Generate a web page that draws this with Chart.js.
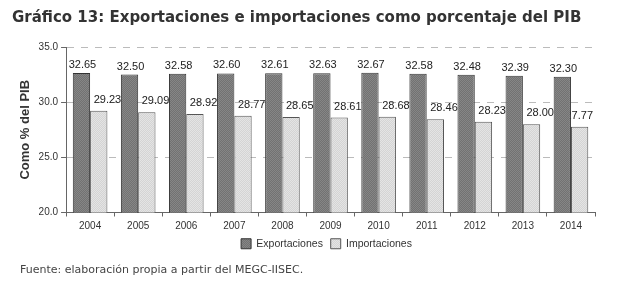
<!DOCTYPE html>
<html><head><meta charset="utf-8">
<script src="https://cdn.jsdelivr.net/npm/chart.js@4.4.0/dist/chart.umd.min.js"></script>
<style>html,body{margin:0;padding:0;background:#fff;}#wrap{width:623px;height:285px;}</style>
</head><body><div id="wrap"><canvas id="c" width="623" height="285"></canvas></div>
<script>
const categories = ['2004','2005','2006','2007','2008','2009','2010','2011','2012','2013','2014'];
const exportaciones = [32.65,32.50,32.58,32.60,32.61,32.63,32.67,32.58,32.48,32.39,32.30];
const importaciones = [29.23,29.09,28.92,28.77,28.65,28.61,28.68,28.46,28.23,28.00,27.77];
const yTicks = [20,25,30,35];
const titleText = 'Gráfico 13: Exportaciones e importaciones como porcentaje del PIB';
const yTitle = 'Como % del PIB';
const sourceText = 'Fuente: elaboración propia a partir del MEGC-IISEC.';

const ctx0 = document.getElementById('c').getContext('2d');
function makePattern(a, b){
  const p = document.createElement('canvas'); p.width = 2; p.height = 2;
  const g = p.getContext('2d');
  g.fillStyle = a; g.fillRect(0,0,2,2);
  g.fillStyle = b; g.fillRect(0,0,1,1); g.fillRect(1,1,1,1);
  return ctx0.createPattern(p,'repeat');
}
const darkFill = makePattern('#727272','#868686');
const lightFill = makePattern('#d4d4d4','#e4e4e4');

const labelPlugin = {
  id:'labels',
  afterLayout(chart){
    if (chart.legend) { chart.legend.left += 23; chart.legend.right += 23; }
  },
  beforeDatasetsDraw(chart){
    const ctx = chart.ctx; const area = chart.chartArea;
    ctx.save();
    ctx.font = '11px "Liberation Sans", Arial, sans-serif';
    ctx.fillStyle = '#222';
    ctx.textBaseline = 'alphabetic';
    chart.data.datasets.forEach((ds, di) => {
      const meta = chart.getDatasetMeta(di);
      meta.data.forEach((bar, i) => {
        const t = ds.data[i].toFixed(2);
        const w = ctx.measureText(t).width;
        let cx = di === 0 ? bar.x + 1 : bar.x + bar.width/2;
        let left = cx - w/2;
        if (left + w > area.right - 2) left = area.right - 2 - w;
        ctx.fillText(t, left, bar.y - (di === 0 ? 5 : 8));
      });
    });
    ctx.restore();
  }
};
const footPlugin = {
  id:'foot',
  afterDraw(chart){
    const ctx = chart.ctx; ctx.save();
    ctx.font = '11px "DejaVu Sans", sans-serif';
    ctx.fillStyle = '#444'; ctx.textBaseline = 'middle';
    ctx.fillText(sourceText, 20, 270);
    ctx.restore();
  }
};

new Chart(document.getElementById('c'), {
  type:'bar',
  data:{
    labels: categories,
    datasets:[
      {label:'Exportaciones', data: exportaciones, backgroundColor: darkFill, borderColor:'#333', borderWidth:1, categoryPercentage:0.72, barPercentage:1},
      {label:'Importaciones', data: importaciones, backgroundColor: lightFill, borderColor:'#555', borderWidth:1, categoryPercentage:0.72, barPercentage:1}
    ]
  },
  options:{
    responsive:false, animation:false,
    layout:{padding:{left:12, right:28, top:0, bottom:26}},
    plugins:{
      title:{display:true, text:titleText, align:'start', color:'#333',
        font:{family:'"DejaVu Sans", sans-serif', size:15, weight:'bold'}, padding:{top:9, bottom:20}},
      legend:{position:'bottom', labels:{boxWidth:10, boxHeight:10, padding:2, color:'#333',
        font:{family:'"Liberation Sans", Arial, sans-serif', size:10.5},
        generateLabels(chart){
          const items = Chart.defaults.plugins.legend.labels.generateLabels(chart);
          if (items.length) items[0].text = items[0].text + '  ';
          return items;
        }}},
      tooltip:{enabled:false}
    },
    scales:{
      x:{grid:{display:true, drawOnChartArea:false, offset:true, tickLength:4, color:'#666'},
         border:{color:'#666'},
         ticks:{color:'#333', padding:4, font:{family:'"Liberation Sans", Arial, sans-serif', size:10}}},
      y:{min:20, max:35,
         afterBuildTicks(s){ s.ticks = yTicks.map(v=>({value:v})); },
         grid:{color:'#bbb', tickLength:5, tickColor:'#666'},
         border:{color:'#666', dash:[7,7]},
         ticks:{color:'#333', padding:3, callback:v=>v.toFixed(1), font:{family:'"Liberation Sans", Arial, sans-serif', size:10}},
         title:{display:true, text:yTitle, color:'#333', font:{family:'"Liberation Sans", Arial, sans-serif', size:13, weight:'bold'}, padding:{top:6,bottom:2}}}
    }
  },
  plugins:[labelPlugin, footPlugin]
});
</script></body></html>
